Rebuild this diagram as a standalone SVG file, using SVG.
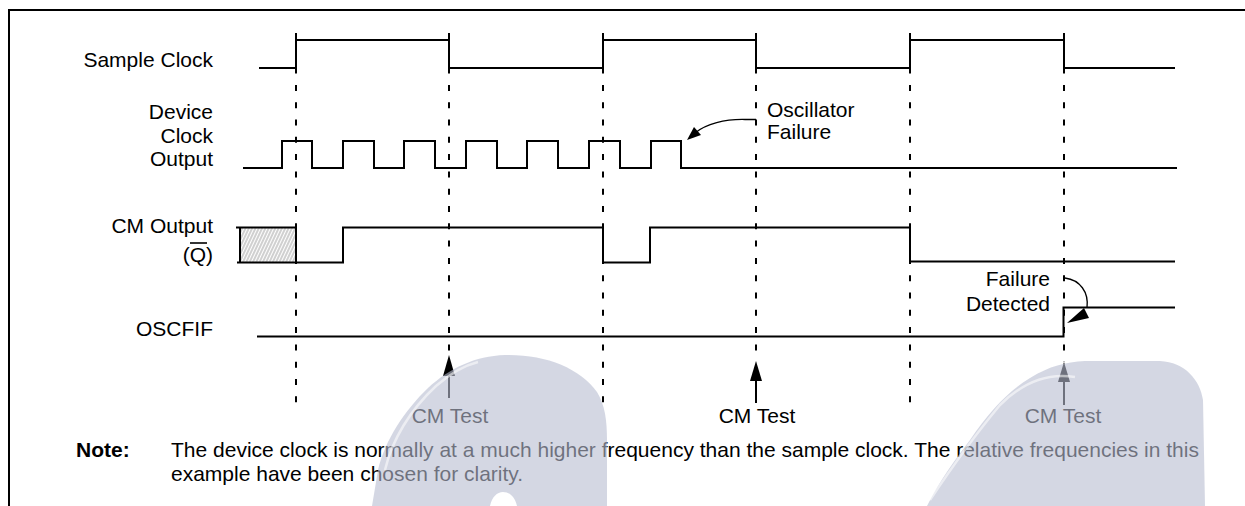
<svg xmlns="http://www.w3.org/2000/svg" width="1245" height="506" viewBox="0 0 1245 506">
<style>
.w{fill:none;stroke:#000;stroke-width:2;stroke-linejoin:miter}
.d{fill:none;stroke:#000;stroke-width:2;stroke-dasharray:6 11.3}
.t{font-family:"Liberation Sans",Arial,sans-serif;font-size:21px;fill:#000}
.r{text-anchor:end}
.c{text-anchor:middle}
.b{font-weight:bold}
.wm{fill:rgb(183,188,208);fill-opacity:0.6}
</style>
<defs>
<pattern id="hatch" patternUnits="userSpaceOnUse" width="3" height="10" patternTransform="rotate(25)">
<line x1="1" y1="0" x2="1" y2="10" stroke="#777" stroke-width="0.7"/>
</pattern>
</defs>
<rect width="1245" height="506" fill="#fff"/>
<g id="frame">
<path class="w" d="M8,10 H1245 M9,9 V506"/>
</g>
<g id="labels">
<text class="t r" x="213" y="67">Sample Clock</text>
<text class="t r" x="213" y="119">Device</text>
<text class="t r" x="213" y="142.5">Clock</text>
<text class="t r" x="213" y="166">Output</text>
<text class="t r" x="213" y="232.5">CM Output</text>
<text class="t r" x="213" y="262">(Q)</text>
<line x1="190" y1="243" x2="207" y2="243" stroke="#000" stroke-width="1.6"/>
<text class="t r" x="213" y="335.5">OSCFIF</text>
</g>
<g id="sample-clock">
<path class="w" d="M259,68 H296 V40 H449 V68 H603 V40 H756 V68 H910 V40 H1064 V68 H1175"/>
</g>
<g id="device-clock">
<path class="w" d="M243,168 H282 V141 H312 V168 H343 V141 H374 V168 H404 V141 H435 V168 H466 V141 H497 V168 H527 V141 H558 V168 H589 V141 H620 V168 H651 V141 H681 V168 H1177"/>
</g>
<g id="cm-output">
<rect x="240" y="227.5" width="56" height="35" fill="url(#hatch)"/>
<path class="w" d="M236,227.5 H296 M240,227.5 V262.5 M237,262.5 H296"/>
<path class="w" d="M296,227.5 V262.5 H343 V227.5 H603 V262.5 H650 V227.5 H910 V261.5 H1175"/>
</g>
<g id="oscfif">
<path class="w" d="M257,336.5 H1063.5 V307.5 H1175"/>
</g>
<g id="connectors">
<path class="d" d="M296,33 V403 M449,33 V355 M603,33 V403 M756,33 V361 M910,33 V403 M1064,33 V362"/>
<path fill="none" stroke="#000" stroke-width="1.3" d="M756,119.5 H745 C725,119 706,124 695,133"/>
<polygon points="687,140 694,127 701,135"/>
<path fill="none" stroke="#000" stroke-width="1.3" d="M1065,278 C1080,280 1089,292 1087,308"/>
<polygon points="1067,323 1084,308 1089,318"/>
<line x1="449" y1="374" x2="449" y2="398" stroke="#000" stroke-width="2"/>
<polygon points="449,355 443,376 455,376"/>
<line x1="756" y1="380" x2="756" y2="403" stroke="#000" stroke-width="2"/>
<polygon points="756,361 750,381 762,381"/>
<line x1="1064" y1="381" x2="1064" y2="405" stroke="#000" stroke-width="2"/>
<polygon points="1064,362 1058,382 1070,382"/>
</g>
<g id="annotations">
<text class="t" x="767" y="116.5">Oscillator</text>
<text class="t" x="767" y="139">Failure</text>
<text class="t r" x="1050" y="286">Failure</text>
<text class="t r" x="1050" y="310.5">Detected</text>
<text class="t c" x="450" y="423">CM Test</text>
<text class="t c" x="757" y="423">CM Test</text>
<text class="t c" x="1063" y="423">CM Test</text>
</g>
<g id="note">
<text class="t b" x="76" y="456.5">Note:</text>
<text class="t" x="171" y="456.5">The device clock is normally at a much higher frequency than the sample clock. The relative frequencies in this</text>
<text class="t" x="171" y="481">example have been chosen for clarity.</text>
</g>
<g id="watermark">
<path class="wm" fill-rule="evenodd" d="M372,506 L378,470 C385,440 405,410 428,388 C450,368 475,356 505,355 C545,354 580,368 597,392 C605,405 607,420 607,440 L607,506 Z M490,506 C492,497 497,492 503,492 C510,492 515,497 517,506 Z"/>
<path class="wm" d="M927,506 C940,480 955,460 970,440 C990,410 1010,390 1030,378 C1050,366 1065,362 1085,361 L1160,361 C1185,362 1200,380 1203,400 L1205,506 Z"/>
<path fill="none" stroke="#fff" stroke-opacity="0.55" stroke-width="2.5" d="M385,470 C392,440 410,410 436,386 C452,372 466,365 478,362"/>
<path fill="none" stroke="#fff" stroke-opacity="0.55" stroke-width="2.5" d="M930,500 C950,470 975,435 1000,405 C1020,385 1045,372 1075,377"/>
</g>
</svg>
